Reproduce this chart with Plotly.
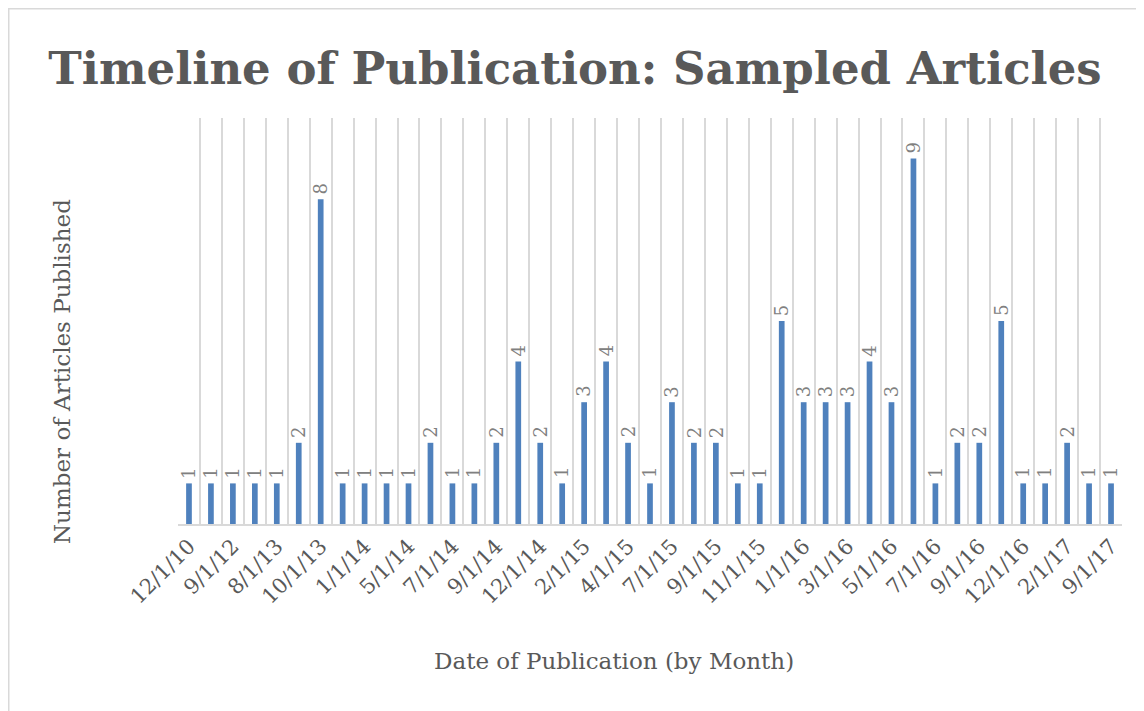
import plotly.graph_objects as go

# Values per monthly category (43 months with publications)
values = [1, 1, 1, 1, 1, 2, 8, 1, 1, 1, 1, 2, 1, 1, 2, 4, 2, 1, 3, 4, 2, 1,
          3, 2, 2, 1, 1, 5, 3, 3, 3, 4, 3, 9, 1, 2, 2, 5, 1, 1, 2, 1, 1]
# Labels shown on axis (every other category)
tick_labels = ["12/1/10", "9/1/12", "8/1/13", "10/1/13", "1/1/14", "5/1/14",
               "7/1/14", "9/1/14", "12/1/14", "2/1/15", "4/1/15", "7/1/15",
               "9/1/15", "11/1/15", "1/1/16", "3/1/16", "5/1/16", "7/1/16",
               "9/1/16", "12/1/16", "2/1/17", "9/1/17"]

idx = list(range(len(values)))
tick_pos = idx[::2]

FONT = "DejaVu Serif"
W, H = 1136, 703
L, R, T, B = 170, 22, 110, 187
PW, PH = W - L - R, H - T - B

fig = go.Figure()
fig.add_trace(go.Bar(
    x=idx, y=values,
    marker=dict(color="#4F81BD", line=dict(width=0)),
    width=0.26,
    hoverinfo="x+y",
))

# value labels above each bar, rotated
label_anns = [dict(text=str(v), x=i, y=v, xref="x", yref="y",
                   textangle=-90, xanchor="center", yanchor="bottom",
                   yshift=3, showarrow=False,
                   font=dict(family=FONT, size=18, color="#808080"))
              for i, v in zip(idx, values)]

fig.update_layout(
    width=W, height=H,
    paper_bgcolor="white", plot_bgcolor="white",
    margin=dict(l=L, r=R, t=T, b=B),
    showlegend=False,
    title=dict(text="<b>Timeline of Publication: Sampled Articles</b>",
               x=567 / W, xref="container", xanchor="center",
               y=1 - 60 / H, yref="container", yanchor="middle",
               font=dict(family=FONT, size=45, color="#595959")),
    xaxis=dict(
        range=[-0.5, len(values) - 0.5],
        tickmode="array", tickvals=tick_pos, ticktext=tick_labels,
        tickangle=-45,
        tickfont=dict(family=FONT, size=21, color="#595959"),
        showgrid=False, zeroline=False,
        showline=True, linecolor="#D9D9D9", linewidth=1.5,
        ticks="",
        minor=dict(tickmode="array",
                   tickvals=[i - 0.5 for i in range(len(values) + 1)],
                   showgrid=True, gridcolor="#D9D9D9", gridwidth=1.5,
                   ticks=""),
    ),
    yaxis=dict(
        range=[0, 10],
        showgrid=False, zeroline=False, showticklabels=False,
        showline=False, ticks="",
    ),
    annotations=label_anns + [
        dict(text="Number of Articles Published", textangle=-90,
             xref="paper", yref="paper",
             x=(54 - L) / PW, y=(H - B - 364) / PH,
             xanchor="center", yanchor="middle", showarrow=False,
             font=dict(family=FONT, size=23, color="#595959")),
        dict(text="Date of Publication (by Month)",
             xref="paper", yref="paper",
             x=(606 - L) / PW, y=(H - B - 653) / PH,
             xanchor="center", yanchor="middle", showarrow=False,
             font=dict(family=FONT, size=23, color="#595959")),
    ],
    shapes=[dict(type="rect", xref="paper", yref="paper",
                 x0=(0.75 - L) / PW, x1=(W + 10 - L) / PW,
                 y0=(H - B - H - 10) / PH, y1=1 + (T - 0.75) / PH,
                 line=dict(color="#D9D9D9", width=1.5),
                 fillcolor="rgba(0,0,0,0)", layer="below")],
)

fig.write_html("out.html")
